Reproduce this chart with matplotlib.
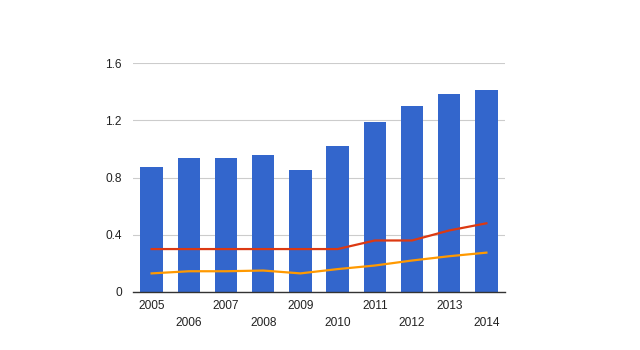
import matplotlib
matplotlib.use("Agg")
import matplotlib.pyplot as plt

years = ["2005", "2006", "2007", "2008", "2009", "2010", "2011", "2012", "2013", "2014"]
bar_values = [0.87, 0.935, 0.935, 0.96, 0.85, 1.02, 1.19, 1.30, 1.38, 1.41]
red_values = [0.30, 0.30, 0.30, 0.30, 0.30, 0.30, 0.36, 0.36, 0.43, 0.48]
orange_values = [0.13, 0.145, 0.145, 0.15, 0.13, 0.16, 0.185, 0.22, 0.25, 0.275]
y_ticks = [0, 0.4, 0.8, 1.2, 1.6]
y_tick_labels = ["0", "0.4", "0.8", "1.2", "1.6"]

plt.rcParams['font.family'] = ['Liberation Sans', 'DejaVu Sans']

fig = plt.figure(figsize=(6.4, 3.5), dpi=100)
ax = fig.add_axes([133/640, 58/350, 372/640, 229/350])

x = list(range(len(years)))
ax.bar(x, bar_values, width=0.6, color="#3366cc", zorder=2)
ax.plot(x, red_values, color="#dc3912", linewidth=1.6, zorder=3)
ax.plot(x, orange_values, color="#ff9900", linewidth=1.6, zorder=3)

ax.set_xlim(-0.5, len(years) - 0.5)
ax.set_ylim(0, 1.6)
ax.set_yticks(y_ticks)
ax.set_yticklabels(y_tick_labels)
ax.grid(axis="y", color="#cccccc", linewidth=0.8, zorder=0)
ax.set_axisbelow(True)

ax.set_xticks(x)
ax.set_xticklabels([y if i % 2 == 0 else "\n" + y for i, y in enumerate(years)])
for lab in ax.get_xticklabels():
    lab.set_linespacing(1.5)

for side in ["top", "right", "left"]:
    ax.spines[side].set_visible(False)
ax.spines["bottom"].set_color("#333333")
ax.spines["bottom"].set_linewidth(1.0)
ax.tick_params(axis="both", length=0, labelsize=8.6, colors="#222222")
ax.tick_params(axis="x", pad=6)
ax.tick_params(axis="y", pad=8)

fig.savefig("out.png", dpi=100, facecolor="white")
